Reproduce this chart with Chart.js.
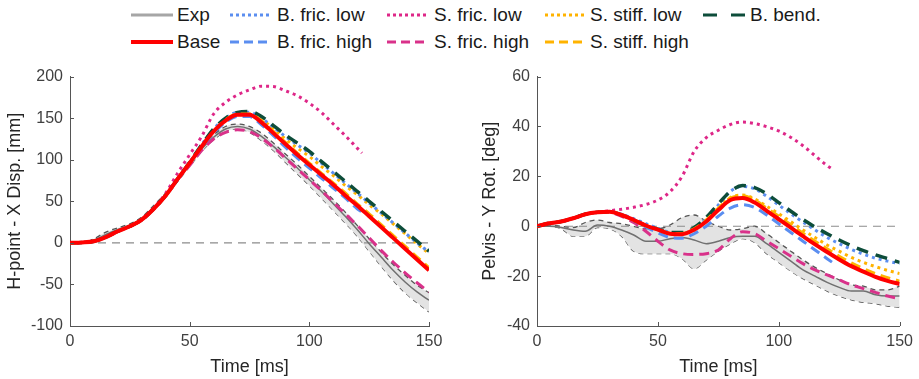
<!DOCTYPE html>
<html>
<head>
<meta charset="utf-8">
<script src="https://cdn.jsdelivr.net/npm/chart.js@4.4.0/dist/chart.umd.min.js"></script>
<style>
  body { margin: 0; background: #fff; width: 919px; height: 379px; position: relative; overflow: hidden;
         font-family: "Liberation Sans", Arial, sans-serif; }
  #legend { position: absolute; left: 0; top: 0; width: 919px; height: 60px; }
  .item { position: absolute; height: 24px; line-height: 24px; font-size: 19px; color: #1a1a1a; white-space: nowrap; }
  .sample { position: absolute; }
  canvas { position: absolute; }
</style>
</head>
<body>
<div id="legend"></div>
<canvas id="hpoint" width="450" height="319" style="left:0;top:60px;width:450px;height:319px"></canvas>
<canvas id="pelvis" width="459" height="319" style="left:460px;top:60px;width:459px;height:319px"></canvas>
<script>
// time axis [ms]
const time = [0,5,10,15,20,25,30,35,40,45,50,55,60,65,70,75,80,85,90,95,100,105,110,115,120,125,130,135,140,145,150];
// runs that stopped early
const timeShort = [0,5,10,15,20,25,30,35,40,45,50,55,60,65,70,75,80,85,90,95,100,105,110,115,120,122];
const xTicks = [0, 50, 100, 150];

// H-point X displacement [mm]
const hpExp       = [0,0,3,10,16,21,28,42,58,77,95,113,127,137,140,137,128,116,103,90,76,62,47,32,16,-1,-17,-33,-47,-59,-69];
const hpExpHi     = [0,0,5,13,18,23,31,45,60,79,97,116,130,140,143,140,132,120,107,94,80,66,52,37,21,5,-11,-26,-39,-51,-60];
const hpExpLo     = [0,0,2,8,14,19,26,39,55,74,92,110,124,134,137,133,123,111,97,83,69,54,39,24,8,-10,-28,-45,-60,-72,-83];
const hpBase      = [0,0.5,2,7,14,20,28,41,57,77,96,116,134,147,154,154,145,132,119,106,94,82,70,57,45,32,19,6,-7,-20,-33];
const hpBfricLow  = [0,0.5,2,7,14,20,28,41,57,77,97,118,137,150,157,157,150,139,128,118,108,96,84,72,60,48,36,24,12,0,-11];
const hpBfricHigh = [0,0.5,2,7,14,20,28,41,57,77,96,115,132,145,152,152,142,129,115,102,90,78,66,54,41,37];
const hpSfricLow  = [0,0.5,2,7,14,20,28,42,60,84,106,128,155,169,178,184,188.5,188,183,177,168,157,143,129,114,108];
const hpSfricHigh = [0,0.5,2,7,14,20,28,41,57,76,93,111,125,133,136,134,126,115,102,89,76,63,49,35,21,6,-9,-23,-36,-48,-59];
const hpSstiffLow = [0,0.5,2,7,14,20,28,41,57,77,97,117,135,148,155,155,149,137,125,114,104,92,81,69,58,46,35,23,11,-1,-13];
const hpSstiffHigh= [0,0.5,2,7,14,20,28,41,57,77,96,116,134,148,155,155,147,134,121,108,96,84,72,60,47,35,22,9,-4,-17,-30];
const hpBbend     = [0,0.5,2,7,14,20,28,41,57,77,97,118,137,150,157,158,152,141,130,120,110,98,86,74,62,50,38,26,14,2,-10];
const hpTicks = [-100, -50, 0, 50, 100, 150, 200];

// Pelvis Y rotation [deg]
const prExp       = [0,0,-0.5,-1.5,-2,0.5,0,-1.5,-3.5,-6,-6,-5,-4.5,-5.5,-7,-6,-4.5,-4,-4,-7,-10.5,-14,-17.5,-20,-22.5,-24.5,-26,-26,-27.5,-28,-28];
const prExpHi     = [0,0.5,0,-0.5,1.5,2.5,1.5,1,0,-1,-1,0.5,3.5,4.5,2,0,-1.5,-1,0,-3,-6.5,-10,-13.5,-16.5,-19,-21.5,-23.5,-24,-25.5,-25.5,-24];
const prExpLo     = [0,0,-1,-4,-4,-0.5,-1,-4,-10,-11,-11,-11,-13,-17,-13.5,-10,-7,-5,-6.5,-11,-14.5,-18,-21,-23.5,-26,-28,-29.5,-30.5,-31,-32,-32.5];
const prBase      = [0,1.2,1.9,3.2,4.8,5.6,5.8,4.5,2.5,0.3,-1.4,-3,-3.2,-1.4,1.9,6.5,10.5,11.3,9.5,6.2,2.8,-0.6,-4,-7.3,-10.3,-13.3,-16,-18.2,-20.3,-21.9,-23.2];
const prBfricLow  = [0,1.2,1.9,3.2,4.8,5.6,5.8,4.8,3,1,-0.8,-2.5,-3,-1,3,8.5,14,16,15,12,8.5,5,1.7,-1.5,-4.5,-7,-9.3,-11.2,-12.8,-14,-15];
const prBfricHigh = [0,1.2,1.9,3.2,4.8,5.6,5.8,4.5,2.3,-0.3,-2.6,-4.5,-4.8,-3,0,4,7.3,8.6,7.5,4.5,1,-2.5,-6,-9.5,-13,-14.4];
const prSfricLow  = [0,1.2,1.9,3.2,4.8,5.6,6.2,6.8,7.6,8.7,10.5,13.8,20,30,35.5,38.5,40.8,41.8,41.2,39.9,38.2,35.6,32.3,28.3,24.3,23];
const prSfricHigh = [0,1.2,1.9,3.2,4.8,5.6,5.5,4,1.5,-2,-6,-9.5,-11,-11.3,-11,-9.5,-5,-2.2,-3,-6,-9,-12,-15,-17.5,-19.5,-21.5,-23.5,-25,-26.5,-28,-29];
const prSstiffLow = [0,1.2,1.9,3.2,4.8,5.6,5.8,4.5,2.5,0.3,-1.3,-2.8,-2.9,-1,2.5,7.3,11.5,12.5,11,8,5,1.8,-1.5,-4.5,-7.5,-10,-12.5,-14.5,-16.2,-17.7,-19];
const prSstiffHigh= [0,1.2,1.9,3.2,4.8,5.6,5.8,4.5,2.5,0.3,-1.3,-2.8,-2.9,-1,2.5,7.3,11.3,12.2,10.5,7.3,4,0.6,-2.8,-6,-9,-12,-14.7,-17,-19,-20.6,-22];
const prBbend     = [0,1.2,1.9,3.2,4.8,5.6,5.8,4.5,2.5,0.3,-1.2,-2.5,-2.5,-0.5,3.5,9,14,16.3,15.5,13,9.5,6,2.7,-0.3,-3,-5.5,-7.8,-9.8,-11.5,-13,-14.5];
const prTicks = [-40, -20, 0, 20, 40, 60];

// line styles per series
const styles = {
  'Exp':            { color: '#707070', width: 1.5, dash: [],      legColor: '#a6a6a6', legWidth: 3, legDash: '' },
  'Base':           { color: '#ff0000', width: 4,   dash: [],      legWidth: 4, legDash: '' },
  'B. fric. low':   { color: '#5b8ef0', width: 3,   dash: [3, 4],  legDash: '3 3' },
  'B. fric. high':  { color: '#5b8ef0', width: 3,   dash: [10, 6], legDash: '9 5' },
  'S. fric. low':   { color: '#de2788', width: 3,   dash: [3, 4],  legDash: '3 3' },
  'S. fric. high':  { color: '#d9318a', width: 3,   dash: [10, 6], legDash: '9 5' },
  'S. stiff. low':  { color: '#ffb300', width: 3,   dash: [3, 4],  legDash: '3 3' },
  'S. stiff. high': { color: '#ffb300', width: 3,   dash: [10, 6], legDash: '9 5' },
  'B. bend.':       { color: '#0d4d3a', width: 3.5, dash: [12, 8], legDash: '14 14' }
};
const legendRows = [
  ['Exp', 'B. fric. low', 'S. fric. low', 'S. stiff. low', 'B. bend.'],
  ['Base', 'B. fric. high', 'S. fric. high', 'S. stiff. high']
];
const legendSampleX = [131, 230, 387, 545, 703];
const legendTextX = [177, 277, 434, 590, 750];
const legendRowY = [15, 42];

// HTML legend
const legendEl = document.getElementById('legend');
legendRows.forEach((row, r) => {
  row.forEach((name, c) => {
    const s = styles[name];
    const svg = document.createElementNS('http://www.w3.org/2000/svg', 'svg');
    svg.setAttribute('class', 'sample');
    svg.setAttribute('width', 42); svg.setAttribute('height', 10);
    svg.style.left = legendSampleX[c] + 'px';
    svg.style.top = (legendRowY[r] - 5) + 'px';
    const ln = document.createElementNS('http://www.w3.org/2000/svg', 'line');
    ln.setAttribute('x1', 0); ln.setAttribute('x2', 42);
    ln.setAttribute('y1', 5); ln.setAttribute('y2', 5);
    ln.setAttribute('stroke', s.legColor || s.color);
    ln.setAttribute('stroke-width', s.legWidth || 3);
    if (s.legDash) ln.setAttribute('stroke-dasharray', s.legDash);
    svg.appendChild(ln);
    legendEl.appendChild(svg);
    const span = document.createElement('span');
    span.className = 'item';
    span.textContent = name;
    span.style.left = legendTextX[c] + 'px';
    span.style.top = (legendRowY[r] - 12) + 'px';
    legendEl.appendChild(span);
  });
});

function pts(t, v) {
  return v.map((y, i) => ({ x: t[i], y: y }));
}

function line(name, t, v) {
  const s = styles[name];
  return {
    label: name, data: pts(t, v),
    borderColor: s.color, borderWidth: s.width, borderDash: s.dash,
    pointRadius: 0, fill: false, cubicInterpolationMode: 'monotone'
  };
}

// matlab-style ticks pointing into the plot
const inwardTicks = {
  id: 'inwardTicks',
  afterDraw(chart) {
    const { ctx, chartArea: a, scales: { x, y } } = chart;
    ctx.save();
    ctx.strokeStyle = '#555';
    ctx.lineWidth = 1;
    ctx.beginPath();
    x.ticks.forEach(t => {
      const px = Math.round(x.getPixelForValue(t.value)) + 0.5;
      ctx.moveTo(px, a.bottom); ctx.lineTo(px, a.bottom - 4);
    });
    y.ticks.forEach(t => {
      const py = Math.round(y.getPixelForValue(t.value)) + 0.5;
      ctx.moveTo(a.left, py); ctx.lineTo(a.left + 4, py);
    });
    ctx.stroke();
    ctx.restore();
  }
};

function makeChart(id, d, yTicks, yTitle, yWidth, titlePad, padRight) {
  const last = time.length - 1;
  const datasets = [
    line('Base', time, d.base),
    line('S. stiff. high', time, d.sstiffHigh),
    line('B. bend.', time, d.bbend),
    line('B. fric. low', time, d.bfricLow),
    line('S. stiff. low', time, d.sstiffLow),
    line('B. fric. high', timeShort, d.bfricHigh),
    line('S. fric. high', time, d.sfricHigh),
    line('S. fric. low', timeShort, d.sfricLow),
    line('Exp', time, d.exp),
    { label: 'zero', data: [{ x: time[0], y: 0 }, { x: time[last], y: 0 }],
      borderColor: '#8c8c8c', borderWidth: 1.2, borderDash: [8, 6], pointRadius: 0, fill: false },
    { label: 'Exp hi', data: pts(time, d.expHi), borderColor: '#555', borderWidth: 1.3, borderDash: [5, 4],
      pointRadius: 0, fill: '+1', backgroundColor: '#e3e3e3', cubicInterpolationMode: 'monotone' },
    { label: 'Exp lo', data: pts(time, d.expLo), borderColor: '#555', borderWidth: 1.3, borderDash: [5, 4],
      pointRadius: 0, fill: false, cubicInterpolationMode: 'monotone' }
  ];
  return new Chart(document.getElementById(id), {
    type: 'line',
    data: { datasets: datasets },
    options: {
      responsive: false,
      animation: false,
      layout: { padding: { top: 13, right: padRight, bottom: 0, left: 0 } },
      plugins: { legend: { display: false }, tooltip: { enabled: false } },
      scales: {
        x: {
          type: 'linear', min: xTicks[0], max: xTicks[xTicks.length - 1],
          afterBuildTicks: s => { s.ticks = xTicks.map(v => ({ value: v })); },
          afterFit: s => { s.height = 53; },
          grid: { display: false, drawTicks: false },
          border: { color: '#555', width: 1 },
          ticks: { font: { family: 'Liberation Sans', size: 16 }, color: '#404040', padding: 6, maxRotation: 0 },
          title: { display: true, text: 'Time [ms]', font: { family: 'Liberation Sans', size: 18 },
                   color: '#262626', padding: { top: 0, bottom: 1 } }
        },
        y: {
          type: 'linear', min: yTicks[0], max: yTicks[yTicks.length - 1],
          afterBuildTicks: s => { s.ticks = yTicks.map(v => ({ value: v })); },
          afterFit: s => { s.width = yWidth; },
          grid: { display: false, drawTicks: false },
          border: { color: '#555', width: 1 },
          ticks: { font: { family: 'Liberation Sans', size: 16 }, color: '#404040', padding: 7 },
          title: { display: true, text: yTitle, font: { family: 'Liberation Sans', size: 18 },
                   color: '#262626', padding: { top: titlePad, bottom: 0 } }
        }
      }
    },
    plugins: [inwardTicks]
  });
}

makeChart('hpoint', {
  base: hpBase, sstiffHigh: hpSstiffHigh, bbend: hpBbend, bfricLow: hpBfricLow, sstiffLow: hpSstiffLow,
  bfricHigh: hpBfricHigh, sfricHigh: hpSfricHigh, sfricLow: hpSfricLow, exp: hpExp, expHi: hpExpHi, expLo: hpExpLo
}, hpTicks, 'H-point - X Disp. [mm]', 70, 4, 21);

makeChart('pelvis', {
  base: prBase, sstiffHigh: prSstiffHigh, bbend: prBbend, bfricLow: prBfricLow, sstiffLow: prSstiffLow,
  bfricHigh: prBfricHigh, sfricHigh: prSfricHigh, sfricLow: prSfricLow, exp: prExp, expHi: prExpHi, expLo: prExpLo
}, prTicks, 'Pelvis - Y Rot. [deg]', 77, 19, 16);
</script>
</body>
</html>
